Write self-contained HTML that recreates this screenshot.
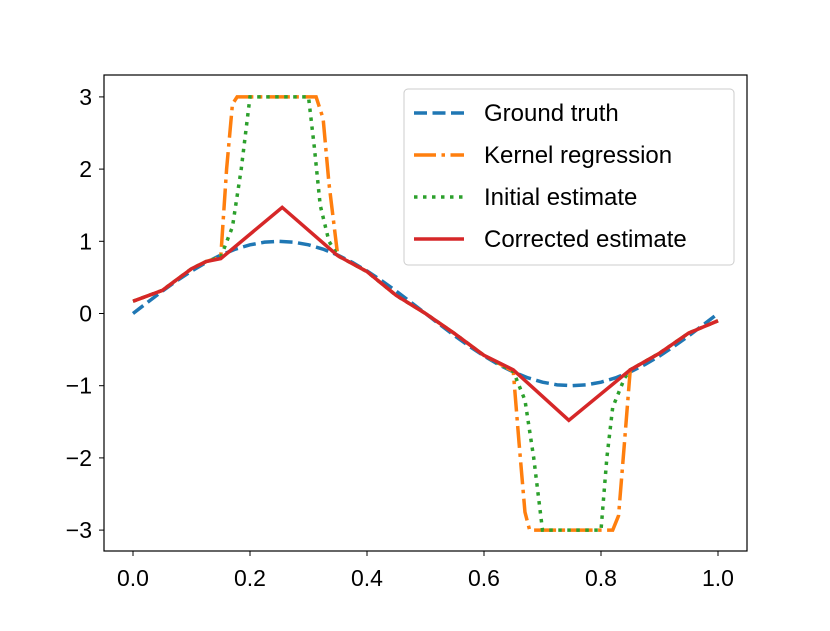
<!DOCTYPE html>
<html><head><meta charset="utf-8"><style>
body{margin:0;background:#fff}
svg{display:block;font-family:"Liberation Sans","DejaVu Sans",sans-serif}
</style></head><body>
<svg id="chart" width="830" height="631">
<rect x="104" y="75" width="643" height="476" fill="#fff"/>
<g id="series"></g>
<rect x="104" y="75" width="643" height="476" fill="none" stroke="#000" stroke-width="1.2"/>
<g id="ticks"></g>
<g>
<rect x="404" y="89" width="330" height="176" rx="4" fill="#fff" fill-opacity="0.8" stroke="#ccc"/>
<g><line x1="414" y1="113" x2="464" y2="113" stroke="#1f77b4" stroke-width="3.5" stroke-dasharray="13,5.5"/><text x="484" y="121" font-size="24">Ground truth</text></g>
<g><line x1="414" y1="155" x2="464" y2="155" stroke="#ff7f0e" stroke-width="3.5" stroke-dasharray="22,5.5,3.5,5.5"/><text x="484" y="163" font-size="24">Kernel regression</text></g>
<g><line x1="414" y1="197" x2="464" y2="197" stroke="#2ca02c" stroke-width="3.5" stroke-dasharray="3.5,5.5"/><text x="484" y="205" font-size="24">Initial estimate</text></g>
<g><line x1="414" y1="239" x2="464" y2="239" stroke="#d62728" stroke-width="3.5"/><text x="484" y="247" font-size="24">Corrected estimate</text></g>
</g>
</svg>
<script>
const xTicks=[0,0.2,0.4,0.6,0.8,1.0];
const xTickLabels=["0.0","0.2","0.4","0.6","0.8","1.0"];
const yTicks=[3,2,1,0,-1,-2,-3];
const yTickLabels=["3","2","1","0","\u22121","\u22122","\u22123"];
const truthX=[0,0.025,0.05,0.075,0.1,0.125,0.15,0.175,0.2,0.225,0.25,0.275,0.3,0.325,0.35,0.375,0.4,0.425,0.45,0.475,0.5,0.525,0.55,0.575,0.6,0.625,0.65,0.675,0.7,0.725,0.75,0.775,0.8,0.825,0.85,0.875,0.9,0.925,0.95,0.975,1];
const truthY=[0,0.156,0.309,0.454,0.588,0.707,0.809,0.891,0.951,0.988,1,0.988,0.951,0.891,0.809,0.707,0.588,0.454,0.309,0.156,0,-0.156,-0.309,-0.454,-0.588,-0.707,-0.809,-0.891,-0.951,-0.988,-1,-0.988,-0.951,-0.891,-0.809,-0.707,-0.588,-0.454,-0.309,-0.156,0];
const corrX=[0,0.05,0.1,0.125,0.15,0.255,0.35,0.4,0.45,0.5,0.55,0.6,0.65,0.745,0.85,0.9,0.95,1];
const corrY=[0.17,0.32,0.62,0.72,0.76,1.47,0.8,0.58,0.25,0.0,-0.28,-0.58,-0.78,-1.48,-0.78,-0.55,-0.27,-0.1];
const kernX=[0,0.05,0.1,0.125,0.15,0.16,0.17,0.178,0.313,0.325,0.335,0.35,0.4,0.45,0.5,0.55,0.6,0.65,0.66,0.67,0.678,0.82,0.83,0.84,0.85,0.9,0.95,1];
const kernY=[0.17,0.32,0.62,0.72,0.78,2.0,2.9,3,3,2.7,1.8,0.8,0.58,0.25,0,-0.28,-0.58,-0.8,-1.8,-2.75,-3,-3,-2.8,-1.8,-0.78,-0.55,-0.27,-0.1];
const initX=[0,0.05,0.1,0.125,0.15,0.17,0.185,0.2,0.3,0.31,0.32,0.335,0.35,0.4,0.45,0.5,0.55,0.6,0.65,0.67,0.685,0.7,0.8,0.81,0.82,0.84,0.85,0.9,0.95,1];
const initY=[0.17,0.32,0.62,0.72,0.78,1.2,2.0,3,3,2.3,1.5,1.0,0.8,0.58,0.25,0,-0.28,-0.58,-0.8,-1.2,-2.0,-3,-3,-2.0,-1.3,-0.9,-0.78,-0.55,-0.27,-0.1];
const X=v=>133+v*585, Y=v=>313.5-v*72.2;
const ns="http://www.w3.org/2000/svg";
const sg=document.getElementById('series'), tg=document.getElementById('ticks');
function line(xs,ys,color,dash,name){
  const p=document.createElementNS(ns,'polyline');
  p.setAttribute('points',xs.map((x,i)=>X(x)+','+Y(ys[i])).join(' '));
  p.setAttribute('fill','none');p.setAttribute('stroke',color);p.setAttribute('stroke-width','3.5');
  if(dash)p.setAttribute('stroke-dasharray',dash);
  
  
  sg.appendChild(p);
}
line(truthX,truthY,'#1f77b4','13,5.5','ground-truth-line');
line(kernX,kernY,'#ff7f0e','22,5.5,3.5,5.5','kernel-regression-line');
line(initX,initY,'#2ca02c','3.5,5.5','initial-estimate-line');
line(corrX,corrY,'#d62728','','corrected-estimate-line');
xTicks.forEach((v,i)=>{
  const l=document.createElementNS(ns,'line');
  l.setAttribute('x1',X(v));l.setAttribute('x2',X(v));l.setAttribute('y1',551);l.setAttribute('y2',556);l.setAttribute('stroke','#000');
  
  
  tg.appendChild(l);
  const t=document.createElementNS(ns,'text');
  t.setAttribute('x',X(v));t.setAttribute('y',586);t.setAttribute('text-anchor','middle');t.setAttribute('font-size','23');
  t.textContent=xTickLabels[i];
  
  
  tg.appendChild(t);
});
yTicks.forEach((v,i)=>{
  const l=document.createElementNS(ns,'line');
  l.setAttribute('x1',99);l.setAttribute('x2',104);l.setAttribute('y1',Y(v));l.setAttribute('y2',Y(v));l.setAttribute('stroke','#000');
  
  
  tg.appendChild(l);
  const t=document.createElementNS(ns,'text');
  t.setAttribute('x',92);t.setAttribute('y',Y(v)+8);t.setAttribute('text-anchor','end');t.setAttribute('font-size','23');
  t.textContent=yTickLabels[i];
  
  
  tg.appendChild(t);
});
</script>
</body></html>
